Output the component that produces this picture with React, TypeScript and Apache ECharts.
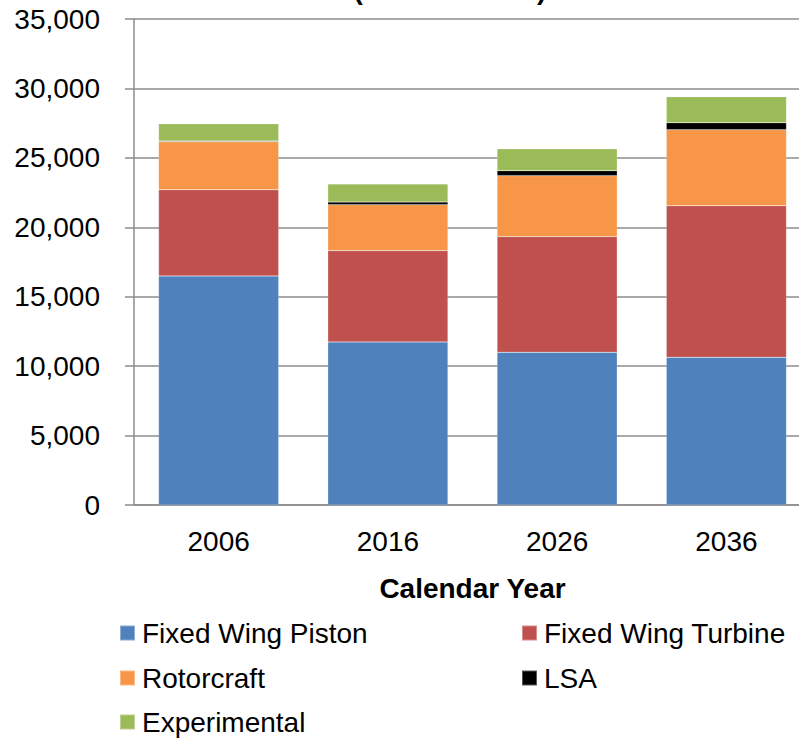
import React, { useEffect, useRef } from "react";
import * as echarts from "echarts";

const years = ["2006", "2016", "2026", "2036"];
const fixedWingPiston = [16500, 11740, 11000, 10640];
const fixedWingTurbine = [6200, 6580, 8330, 10910];
const rotorcraft = [3460, 3310, 4390, 5480];
const lsa = [50, 190, 360, 500];
const experimental = [1250, 1300, 1570, 1870];
const yTicks = [0, 5000, 10000, 15000, 20000, 25000, 30000, 35000];
const seriesNames = ["Fixed Wing Piston", "Fixed Wing Turbine", "Rotorcraft", "LSA", "Experimental"];

const FONT = "'Liberation Sans', Arial, sans-serif";

export default function App() {
  const ref = useRef<HTMLDivElement>(null);
  useEffect(() => {
    if (!ref.current) return;
    const chart = echarts.init(ref.current, null, { renderer: "svg" });
    const mk = (name: string, data: number[], color: string) => ({
      name,
      type: "bar",
      stack: "total",
      data,
      barCategoryGap: "29%",
      itemStyle: { color, borderColor: "rgba(255,255,255,0.35)", borderWidth: 0.5 },
    });
    const legendPos: [number, number][] = [
      [119, 618],
      [521, 618],
      [119, 663],
      [521, 663],
      [119, 707],
    ];
    const legends = seriesNames.map((n, i) => ({
      left: legendPos[i][0],
      top: legendPos[i][1],
      padding: 0,
      itemWidth: 15,
      itemHeight: 15,
      icon: "rect",
      data: [n],
      textStyle: { fontSize: 28, fontFamily: FONT, color: "#000", lineHeight: 30, padding: [0, 0, 0, 2] },
    }));
    chart.setOption({
      animation: false,
      backgroundColor: "#ffffff",
      textStyle: { fontFamily: FONT },
      graphic: [
        {
          type: "text",
          x: 450,
          y: -11,
          style: {
            text: "(in thousands)",
            fontSize: 28,
            fontWeight: "bold",
            fontFamily: FONT,
            fill: "#000",
            textAlign: "center",
            textVerticalAlign: "middle",
          },
        },
      ],
      grid: { left: 134, right: 0, top: 19, bottom: 235, containLabel: false },
      legend: legends,
      xAxis: {
        type: "category",
        data: years,
        name: "Calendar Year",
        nameLocation: "middle",
        nameGap: 69,
        nameTextStyle: { fontSize: 28, fontWeight: "bold", color: "#000", fontFamily: FONT },
        axisLine: { lineStyle: { color: "#8c8c8c", width: 1.5 } },
        axisTick: { show: false },
        axisLabel: { fontSize: 28, color: "#000", margin: 22, fontFamily: FONT },
      },
      yAxis: {
        type: "value",
        min: yTicks[0],
        max: yTicks[yTicks.length - 1],
        interval: 5000,
        axisLine: { show: true, lineStyle: { color: "#8c8c8c", width: 1.5 } },
        axisTick: { show: true, length: 9, lineStyle: { color: "#8c8c8c", width: 1.5 } },
        splitLine: { lineStyle: { color: "#8c8c8c", width: 1.5 } },
        axisLabel: {
          fontSize: 28,
          color: "#000",
          margin: 34,
          fontFamily: FONT,
          formatter: (v: number) => v.toLocaleString("en-US"),
        },
      },
      series: [
        mk(seriesNames[0], fixedWingPiston, "#4F81BD"),
        mk(seriesNames[1], fixedWingTurbine, "#C0504D"),
        mk(seriesNames[2], rotorcraft, "#F79646"),
        mk(seriesNames[3], lsa, "#000000"),
        mk(seriesNames[4], experimental, "#9BBB59"),
      ],
    });
    return () => chart.dispose();
  }, []);
  return (
    <div style={{ position: "fixed", left: 0, top: 0, width: 799, height: 740, overflow: "hidden", background: "#fff" }}>
      <div ref={ref} style={{ position: "absolute", left: 0, top: 0, width: 811, height: 740 }} />
    </div>
  );
}
